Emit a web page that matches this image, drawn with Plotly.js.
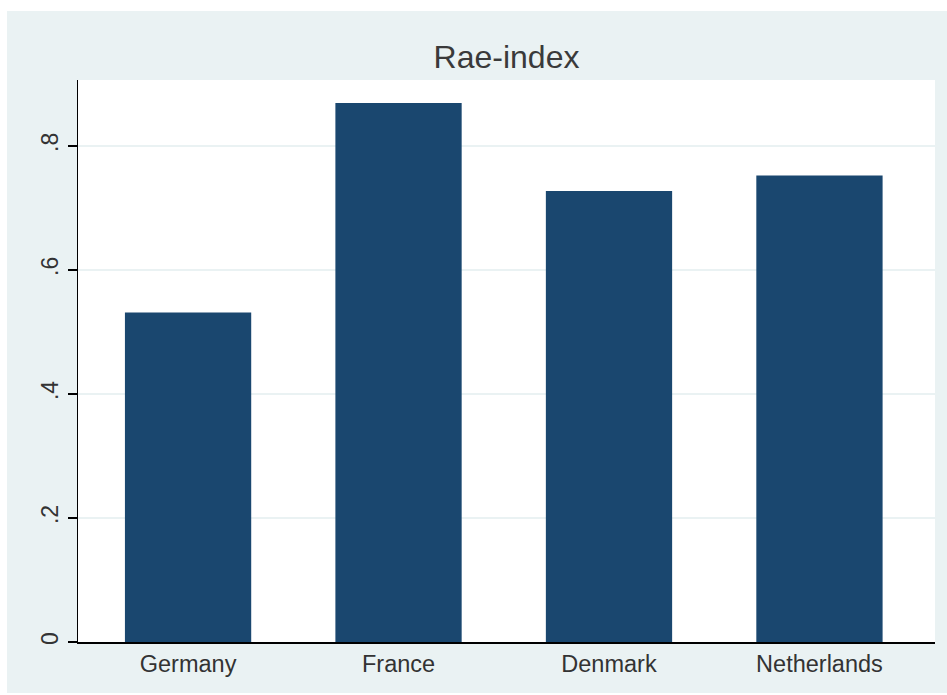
<!DOCTYPE html>
<html>
<head>
<meta charset="utf-8">
<script src="https://cdn.plot.ly/plotly-3.0.1.min.js"></script>
<style>
  html, body { margin: 0; padding: 0; background: #ffffff; }
  #chart { position: absolute; left: 7px; top: 11px; width: 940px; height: 682px; }
</style>
</head>
<body>
<div id="chart"></div>
<script>
const countries = ["Germany", "France", "Denmark", "Netherlands"];
const raeIndex = [0.531, 0.869, 0.727, 0.752];
const yTickVals = [0, 0.2, 0.4, 0.6, 0.8];
const yTickText = ["0", ".2", ".4", ".6", ".8"];
const chartTitle = "Rae-index";

const trace = {
  type: "bar",
  x: countries,
  y: raeIndex,
  marker: { color: "#1a476f", line: { width: 0 } },
  hoverinfo: "x+y"
};

const layout = {
  width: 940,
  height: 682,
  paper_bgcolor: "#eaf2f3",
  plot_bgcolor: "#ffffff",
  margin: { l: 71, r: 12, t: 69, b: 51, pad: 0 },
  bargap: 0.4,
  showlegend: false,
  font: { family: "Liberation Sans, Arial, sans-serif", color: "#333333" },
  title: {
    text: chartTitle,
    font: { size: 32, color: "#3a3a3a", family: "Liberation Sans, Arial, sans-serif" },
    x: 0.5, xref: "paper", xanchor: "center",
    y: 0.933, yref: "container", yanchor: "middle"
  },
  xaxis: {
    type: "category",
    range: [-0.523, 3.549],
    showline: true,
    linecolor: "#000000",
    linewidth: 1.5,
    ticks: "",
    showgrid: false,
    zeroline: false,
    tickfont: { size: 23.5, color: "#333333" },
    fixedrange: true
  },
  yaxis: {
    range: [0, 0.906],
    tickvals: yTickVals,
    ticktext: yTickText,
    tickangle: -90,
    ticks: "outside",
    ticklen: 9,
    tickwidth: 1.5,
    tickcolor: "#000000",
    showline: true,
    linecolor: "#000000",
    linewidth: 1.5,
    showgrid: true,
    gridcolor: "#eaf2f3",
    gridwidth: 1.5,
    zeroline: false,
    tickfont: { size: 23, color: "#333333" },
    fixedrange: true
  }
};

Plotly.newPlot("chart", [trace], layout, { displayModeBar: false, staticPlot: true });
</script>
</body>
</html>
